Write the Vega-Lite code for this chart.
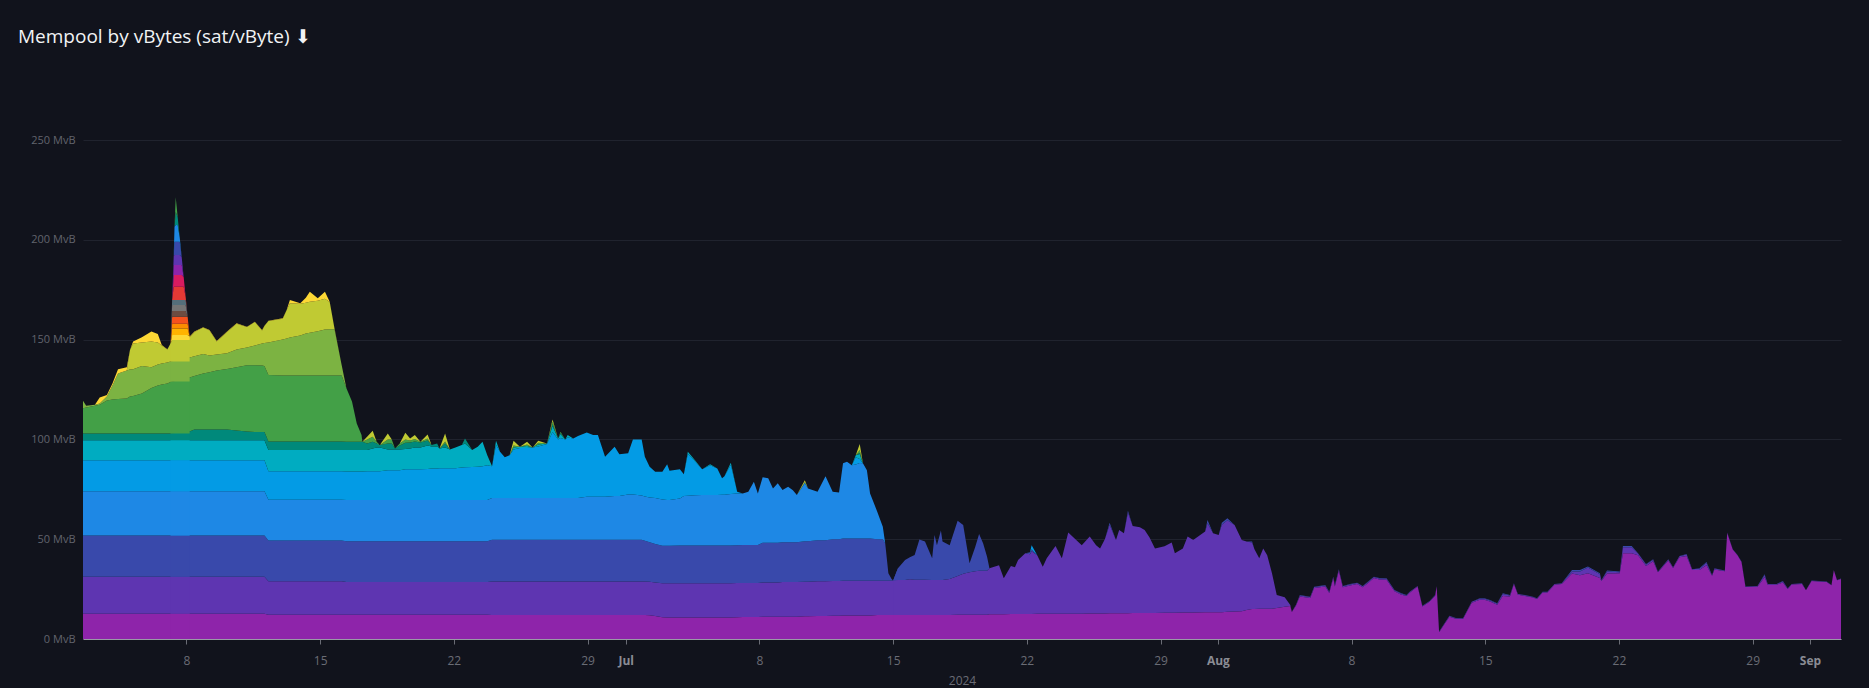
{
"$schema":"https://vega.github.io/schema/vega-lite/v6.json",
"autosize":"none","width":1758,"height":499,
"padding":{"left":83,"top":140,"right":28,"bottom":49},
"background":"#11131c",
"title":{"text":"Mempool by vBytes (sat/vByte)   ⬇","anchor":"start","frame":"group","dx":-65,"offset":87,"fontSize":19,"font":"Open Sans","fontWeight":"normal","color":"#f2f3f5"},
"config":{"view":{"stroke":null},"font":"Open Sans"},
"datasets":{
"full":[
{"t":"2024-06-02T14:00","a":12.7,"b":18.5,"c":20.6,"d":22.2,"e":15.6,"f":10,"g":3.4,"h":12.6,"i":3.8,"j":0,"k":0},
{"t":"2024-06-02T18:00","a":12.7,"b":18.5,"c":20.6,"d":22.2,"e":15.6,"f":10,"g":3.4,"h":13,"i":0.8,"j":0,"k":0},
{"t":"2024-06-03T05:00","a":12.7,"b":18.5,"c":20.6,"d":22.2,"e":15.6,"f":10,"g":3.4,"h":13.8,"i":0.5,"j":0,"k":0},
{"t":"2024-06-03T11:00","a":12.7,"b":18.5,"c":20.6,"d":22.2,"e":15.6,"f":10,"g":3.4,"h":14.3,"i":0.7,"j":0,"k":3},
{"t":"2024-06-03T20:00","a":12.7,"b":18.5,"c":20.6,"d":22.2,"e":15.6,"f":10,"g":3.4,"h":16.5,"i":2,"j":0,"k":0.8},
{"t":"2024-06-04T03:00","a":12.7,"b":18.5,"c":20.6,"d":22.2,"e":15.6,"f":10,"g":3.4,"h":17,"i":7,"j":0,"k":1},
{"t":"2024-06-04T10:00","a":12.7,"b":18.5,"c":20.6,"d":22.2,"e":15.6,"f":10,"g":3.4,"h":17.3,"i":12.7,"j":0,"k":2.1},
{"t":"2024-06-04T21:00","a":12.7,"b":18.5,"c":20.6,"d":22.2,"e":15.6,"f":10,"g":3.4,"h":17.5,"i":14,"j":0,"k":1.6},
{"t":"2024-06-05T01:00","a":12.7,"b":18.5,"c":20.6,"d":22.2,"e":15.6,"f":10,"g":3.4,"h":18.5,"i":13.5,"j":9.8,"k":0},
{"t":"2024-06-05T05:00","a":12.7,"b":18.5,"c":20.6,"d":22.2,"e":15.6,"f":10,"g":3.4,"h":18.8,"i":13.4,"j":12.8,"k":1},
{"t":"2024-06-05T16:00","a":12.7,"b":18.5,"c":20.6,"d":22.2,"e":15.6,"f":10,"g":3.4,"h":20,"i":13.8,"j":11.7,"k":2.7},
{"t":"2024-06-06T04:00","a":12.7,"b":18.5,"c":20.6,"d":22.2,"e":15.6,"f":10,"g":3.4,"h":22.8,"i":10.4,"j":12.8,"k":5},
{"t":"2024-06-06T12:00","a":12.7,"b":18.5,"c":20.6,"d":22.2,"e":15.6,"f":10,"g":3.4,"h":24,"i":10.5,"j":11,"k":4.3},
{"t":"2024-06-06T17:00","a":12.7,"b":18.5,"c":20.6,"d":22.2,"e":15.6,"f":10,"g":3.4,"h":24.5,"i":10.5,"j":9,"k":0.3},
{"t":"2024-06-07T00:00","a":12.7,"b":18.5,"c":20.6,"d":22.2,"e":15.6,"f":10,"g":3.4,"h":25,"i":10.5,"j":6.5,"k":0.2},
{"t":"2024-06-07T04:00","a":12.7,"b":18.5,"c":20.6,"d":22.2,"e":15.6,"f":10,"g":3.4,"h":25.7,"i":10.3,"j":9,"k":0},
{"t":"2024-06-08T04:00","a":12.7,"b":18.5,"c":20.6,"d":22.2,"e":15.6,"f":10,"g":4.4,"h":27,"i":10,"j":10.2,"k":0.3},
{"t":"2024-06-08T10:00","a":12.7,"b":18.5,"c":20.6,"d":22.2,"e":15.6,"f":10,"g":5.4,"h":26.8,"i":9.9,"j":12.1,"k":0.2},
{"t":"2024-06-08T21:00","a":12.7,"b":18.5,"c":20.6,"d":22.2,"e":15.6,"f":10,"g":5.4,"h":28,"i":9.8,"j":13.2,"k":0.2},
{"t":"2024-06-09T05:00","a":12.7,"b":18.5,"c":20.6,"d":22.2,"e":15.6,"f":10,"g":5.4,"h":28.6,"i":8.4,"j":12.6,"k":0.2},
{"t":"2024-06-09T14:00","a":12.7,"b":18.5,"c":20.6,"d":22.2,"e":15.6,"f":10,"g":5.4,"h":29.5,"i":8,"j":6.6,"k":0.2},
{"t":"2024-06-10T03:00","a":12.7,"b":18.5,"c":20.6,"d":22.2,"e":15.6,"f":10,"g":5.4,"h":30.3,"i":7.9,"j":10.6,"k":0.2},
{"t":"2024-06-10T15:00","a":12.7,"b":18.5,"c":20.6,"d":22.2,"e":15.6,"f":10,"g":4.9,"h":31.6,"i":8.9,"j":13,"k":0.2},
{"t":"2024-06-11T04:00","a":12.7,"b":18.5,"c":20.6,"d":22.2,"e":15.6,"f":10,"g":4.4,"h":33.2,"i":8.8,"j":10.3,"k":0.2},
{"t":"2024-06-11T14:00","a":12.7,"b":18.5,"c":20.6,"d":22.2,"e":15.6,"f":10,"g":4.1,"h":33.5,"i":9.8,"j":11.8,"k":0.2},
{"t":"2024-06-11T23:00","a":12.7,"b":18.5,"c":20.6,"d":22.2,"e":15.6,"f":10,"g":4.1,"h":33.3,"i":11,"j":6.6,"k":0.2},
{"t":"2024-06-12T02:00","a":12.7,"b":18.5,"c":20.6,"d":22.2,"e":15.6,"f":10,"g":4.1,"h":33.1,"i":11.5,"j":8.5,"k":0.2},
{"t":"2024-06-12T07:00","a":12.2,"b":16.7,"c":20.4,"d":20.5,"e":14.2,"f":10.7,"g":4.3,"h":33.3,"i":16.2,"j":10.8,"k":0.2},
{"t":"2024-06-13T01:00","a":12.2,"b":16.7,"c":20.4,"d":20.5,"e":14.2,"f":10.7,"g":4.3,"h":33,"i":18,"j":10.5,"k":0.2},
{"t":"2024-06-13T06:00","a":12.2,"b":16.7,"c":20.4,"d":20.5,"e":14.2,"f":10.7,"g":4.3,"h":33,"i":18.5,"j":14.3,"k":0.2},
{"t":"2024-06-13T10:00","a":12.2,"b":16.7,"c":20.4,"d":20.5,"e":14.2,"f":10.7,"g":4.3,"h":33,"i":19,"j":17.2,"k":1.7},
{"t":"2024-06-13T23:00","a":12.2,"b":16.7,"c":20.4,"d":20.5,"e":14.2,"f":10.7,"g":4.3,"h":33,"i":20,"j":16,"k":0.2},
{"t":"2024-06-14T06:00","a":12.2,"b":16.7,"c":20.4,"d":20.5,"e":14.2,"f":10.7,"g":4.3,"h":33,"i":21,"j":15.5,"k":2.5},
{"t":"2024-06-14T11:00","a":12.2,"b":16.7,"c":20.4,"d":20.5,"e":14.2,"f":10.7,"g":4.3,"h":33,"i":21.4,"j":15.6,"k":5},
{"t":"2024-06-14T21:00","a":12.2,"b":16.7,"c":20.4,"d":20.5,"e":14.2,"f":10.7,"g":4.3,"h":33,"i":22.2,"j":15.3,"k":1.2},
{"t":"2024-06-15T06:00","a":12.2,"b":16.7,"c":20.4,"d":20.5,"e":14.2,"f":10.7,"g":4.3,"h":33,"i":23,"j":15.5,"k":3.5},
{"t":"2024-06-15T12:00","a":12.2,"b":16.7,"c":20.4,"d":20.5,"e":14.2,"f":10.7,"g":4.3,"h":33,"i":23.2,"j":13.6,"k":0.2},
{"t":"2024-06-15T18:00","a":12.2,"b":16.7,"c":20.4,"d":20.5,"e":14.2,"f":10.7,"g":4.3,"h":33,"i":23.2,"j":0.3,"k":0.2},
{"t":"2024-06-16T03:00","a":12.2,"b":16.7,"c":20.4,"d":20.5,"e":14.2,"f":10.7,"g":4.3,"h":33,"i":5.3,"j":0,"k":0},
{"t":"2024-06-16T09:00","a":12.1,"b":16.5,"c":20.4,"d":20.6,"e":14.3,"f":10.8,"g":4.1,"h":26.8,"i":0,"j":0,"k":0},
{"t":"2024-06-16T16:00","a":12.1,"b":16.5,"c":20.4,"d":20.6,"e":14.3,"f":10.8,"g":4.1,"h":20.2,"i":0,"j":0,"k":0},
{"t":"2024-06-16T22:00","a":12.1,"b":16.5,"c":20.4,"d":20.6,"e":14.3,"f":10.8,"g":4.1,"h":9.2,"i":0,"j":0,"k":0},
{"t":"2024-06-17T04:00","a":12.1,"b":16.5,"c":20.4,"d":20.6,"e":14.3,"f":10.8,"g":4.1,"h":3.4,"i":0,"j":0,"k":0},
{"t":"2024-06-17T05:00","a":12.1,"b":16.5,"c":20.4,"d":20.6,"e":14.3,"f":10.8,"g":4.1,"h":0,"i":0,"j":0,"k":0},
{"t":"2024-06-17T11:00","a":12.1,"b":16.5,"c":20.4,"d":20.6,"e":14.4,"f":10.7,"g":3.3,"h":2,"i":0,"j":1.3,"k":0},
{"t":"2024-06-17T18:00","a":12.1,"b":16.5,"c":20.4,"d":20.6,"e":14.4,"f":11.5,"g":3.3,"h":2.5,"i":0,"j":3,"k":0},
{"t":"2024-06-17T23:00","a":12.1,"b":16.5,"c":20.4,"d":20.6,"e":14.4,"f":12,"g":2,"h":0.8,"i":0,"j":0,"k":0},
{"t":"2024-06-18T03:00","a":12.1,"b":16.5,"c":20.4,"d":20.6,"e":14.4,"f":12,"g":1.2,"h":0,"i":0,"j":0,"k":0},
{"t":"2024-06-18T13:00","a":12.1,"b":16.5,"c":20.4,"d":20.6,"e":14.9,"f":10.5,"g":3,"h":2,"i":0,"j":3,"k":0},
{"t":"2024-06-18T18:00","a":12.1,"b":16.5,"c":20.4,"d":20.6,"e":14.9,"f":10.5,"g":3,"h":2,"i":0,"j":0,"k":0},
{"t":"2024-06-18T22:00","a":12.1,"b":16.5,"c":20.4,"d":20.6,"e":14.9,"f":10.5,"g":0.5,"h":0,"i":0,"j":0,"k":0},
{"t":"2024-06-19T04:00","a":12.1,"b":16.5,"c":20.4,"d":20.6,"e":15,"f":10.4,"g":2,"h":1,"i":0,"j":0,"k":0},
{"t":"2024-06-19T11:00","a":12.1,"b":16.5,"c":20.4,"d":20.6,"e":15.4,"f":10.2,"g":3.1,"h":1.7,"i":0,"j":3.3,"k":0},
{"t":"2024-06-19T17:00","a":12.1,"b":16.5,"c":20.4,"d":20.6,"e":15.4,"f":10.5,"g":3,"h":1,"i":0,"j":1,"k":0},
{"t":"2024-06-19T23:00","a":12.1,"b":16.5,"c":20.4,"d":20.6,"e":15.4,"f":11,"g":3,"h":1.2,"i":0,"j":2,"k":0},
{"t":"2024-06-20T06:00","a":12.1,"b":16.5,"c":20.4,"d":20.6,"e":15.4,"f":11,"g":2.5,"h":0.3,"i":0,"j":0,"k":0},
{"t":"2024-06-20T15:00","a":12.1,"b":16.5,"c":20.4,"d":20.6,"e":15.6,"f":11.8,"g":2.5,"h":1,"i":0,"j":2,"k":0},
{"t":"2024-06-20T20:00","a":12.1,"b":16.5,"c":20.4,"d":20.6,"e":15.8,"f":11.1,"g":0.7,"h":0,"i":0,"j":0,"k":0},
{"t":"2024-06-21T03:00","a":12.1,"b":16.5,"c":20.4,"d":20.6,"e":15.8,"f":11.1,"g":1.5,"h":0,"i":0,"j":0,"k":0},
{"t":"2024-06-21T06:00","a":12.1,"b":16.5,"c":20.4,"d":20.6,"e":15.9,"f":10,"g":0,"h":0,"i":0,"j":0,"k":0},
{"t":"2024-06-21T13:00","a":12.1,"b":16.5,"c":20.4,"d":20.6,"e":16,"f":10.4,"g":2,"h":1,"i":0,"j":4,"k":0},
{"t":"2024-06-21T19:00","a":12.1,"b":16.5,"c":20.4,"d":20.6,"e":16,"f":9.4,"g":0,"h":0,"i":0,"j":0,"k":0},
{"t":"2024-06-22T02:00","a":12.1,"b":16.5,"c":20.4,"d":20.6,"e":16,"f":10.4,"g":0,"h":0,"i":0,"j":0,"k":0},
{"t":"2024-06-22T10:00","a":12.1,"b":16.5,"c":20.4,"d":20.6,"e":16.3,"f":11.3,"g":0,"h":0,"i":0,"j":0,"k":0},
{"t":"2024-06-22T14:00","a":12.1,"b":16.5,"c":20.4,"d":20.6,"e":16.4,"f":12,"g":2.5,"h":0,"i":0,"j":0,"k":0},
{"t":"2024-06-22T23:00","a":12.1,"b":16.5,"c":20.4,"d":20.6,"e":16.6,"f":8.5,"g":0,"h":0,"i":0,"j":0,"k":0},
{"t":"2024-06-23T06:00","a":12.1,"b":16.5,"c":20.4,"d":20.6,"e":16.7,"f":10,"g":0,"h":0,"i":0,"j":0,"k":0},
{"t":"2024-06-23T12:00","a":12.1,"b":16.5,"c":20.4,"d":20.6,"e":17,"f":12.2,"g":0,"h":0,"i":0,"j":0,"k":0},
{"t":"2024-06-23T18:00","a":12.1,"b":16.5,"c":20.4,"d":20.6,"e":17.5,"f":4.9,"g":0,"h":0,"i":0,"j":0,"k":0},
{"t":"2024-06-24T00:00","a":12,"b":16.8,"c":20.9,"d":21,"e":15.9,"f":0,"g":0,"h":0,"i":0,"j":0,"k":0},
{"t":"2024-06-24T05:00","a":12,"b":16.8,"c":20.9,"d":21,"e":26.5,"f":2.1,"g":0,"h":0,"i":0,"j":0,"k":0},
{"t":"2024-06-24T10:00","a":12,"b":16.8,"c":20.9,"d":21,"e":23.1,"f":0,"g":0,"h":0,"i":0,"j":0,"k":0},
{"t":"2024-06-24T16:00","a":12,"b":16.8,"c":20.9,"d":21,"e":20.3,"f":0,"g":0,"h":0,"i":0,"j":0,"k":0},
{"t":"2024-06-24T22:00","a":12,"b":16.8,"c":20.9,"d":21,"e":21.4,"f":0,"g":0,"h":0,"i":0,"j":0,"k":0},
{"t":"2024-06-25T03:00","a":12,"b":16.8,"c":20.9,"d":21,"e":24.3,"f":1,"g":0,"h":1,"i":0,"j":2.3,"k":0},
{"t":"2024-06-25T11:00","a":12,"b":16.8,"c":20.9,"d":21,"e":25,"f":0.6,"g":0,"h":0,"i":0,"j":0,"k":0},
{"t":"2024-06-25T20:00","a":12,"b":16.8,"c":20.9,"d":21,"e":25,"f":1,"g":0,"h":0.8,"i":0,"j":1.3,"k":0},
{"t":"2024-06-26T03:00","a":12,"b":16.8,"c":20.9,"d":21,"e":25.3,"f":0,"g":0,"h":0,"i":0,"j":0,"k":0},
{"t":"2024-06-26T10:00","a":12,"b":16.8,"c":20.9,"d":21,"e":25.8,"f":1,"g":0,"h":0.8,"i":0,"j":1,"k":0},
{"t":"2024-06-26T21:00","a":12,"b":16.8,"c":20.9,"d":21,"e":27,"f":0.3,"g":0,"h":0,"i":0,"j":0,"k":0},
{"t":"2024-06-27T04:00","a":12,"b":16.8,"c":20.9,"d":21,"e":33,"f":3,"g":1,"h":1.3,"i":0,"j":1,"k":0},
{"t":"2024-06-27T11:00","a":12,"b":16.8,"c":20.9,"d":21,"e":29.3,"f":0.5,"g":0,"h":0,"i":0,"j":0,"k":0},
{"t":"2024-06-27T14:00","a":12,"b":16.8,"c":20.9,"d":21,"e":30,"f":2,"g":0.5,"h":0.6,"i":0,"j":0,"k":0},
{"t":"2024-06-27T20:00","a":12,"b":16.8,"c":20.9,"d":21,"e":29.3,"f":0,"g":0,"h":0,"i":0,"j":0,"k":0},
{"t":"2024-06-27T23:00","a":12,"b":16.8,"c":20.9,"d":21,"e":30.2,"f":1.3,"g":0,"h":0,"i":0,"j":0,"k":0},
{"t":"2024-06-28T06:00","a":12,"b":16.8,"c":20.9,"d":21,"e":29.8,"f":0,"g":0,"h":0,"i":0,"j":0,"k":0},
{"t":"2024-06-28T12:00","a":12,"b":16.8,"c":20.9,"d":21,"e":31,"f":0,"g":0,"h":0,"i":0,"j":0,"k":0},
{"t":"2024-06-28T23:00","a":12,"b":16.8,"c":20.9,"d":21.6,"e":32.2,"f":0,"g":0,"h":0,"i":0,"j":0,"k":0},
{"t":"2024-06-29T07:00","a":12,"b":16.8,"c":20.9,"d":21.6,"e":30.9,"f":0,"g":0,"h":0,"i":0,"j":0,"k":0},
{"t":"2024-06-29T13:00","a":12,"b":16.8,"c":20.9,"d":21.6,"e":30.9,"f":0,"g":0,"h":0,"i":0,"j":0,"k":0},
{"t":"2024-06-29T22:00","a":12,"b":16.8,"c":20.9,"d":21.6,"e":20,"f":0,"g":0,"h":0,"i":0,"j":0,"k":0},
{"t":"2024-06-30T10:00","a":12,"b":16.8,"c":20.9,"d":22,"e":24.6,"f":0,"g":0,"h":0,"i":0,"j":0,"k":0},
{"t":"2024-06-30T16:00","a":12,"b":16.8,"c":20.9,"d":22,"e":20.8,"f":0,"g":0,"h":0,"i":0,"j":0,"k":0},
{"t":"2024-07-01T03:00","a":12,"b":16.8,"c":20.9,"d":22.7,"e":20.6,"f":0,"g":0,"h":0,"i":0,"j":0,"k":0},
{"t":"2024-07-01T09:00","a":12,"b":16.8,"c":20.9,"d":22.7,"e":27.6,"f":0,"g":0,"h":0,"i":0,"j":0,"k":0},
{"t":"2024-07-01T20:00","a":12,"b":16.8,"c":20.9,"d":22.2,"e":28.1,"f":0,"g":0,"h":0,"i":0,"j":0,"k":0},
{"t":"2024-07-02T00:00","a":12,"b":16.8,"c":20.4,"d":22.2,"e":19.9,"f":0,"g":0,"h":0,"i":0,"j":0,"k":0},
{"t":"2024-07-02T06:00","a":11.9,"b":16.8,"c":19.8,"d":22.4,"e":15.4,"f":0,"g":0,"h":0,"i":0,"j":0,"k":0},
{"t":"2024-07-02T13:00","a":11.5,"b":16.8,"c":19.3,"d":23,"e":13.2,"f":0,"g":0,"h":0,"i":0,"j":0,"k":0},
{"t":"2024-07-02T22:00","a":10.9,"b":17,"c":18.8,"d":23.2,"e":13.9,"f":0,"g":0,"h":0,"i":0,"j":0,"k":0},
{"t":"2024-07-03T04:00","a":10.8,"b":17.1,"c":18.8,"d":22.9,"e":18,"f":0,"g":0,"h":0,"i":0,"j":0,"k":0},
{"t":"2024-07-03T07:00","a":10.8,"b":17.1,"c":18.8,"d":22.9,"e":14.7,"f":0,"g":0,"h":0,"i":0,"j":0,"k":0},
{"t":"2024-07-03T20:00","a":10.8,"b":17.1,"c":18.9,"d":23.6,"e":14.6,"f":0,"g":0,"h":0,"i":0,"j":0,"k":0},
{"t":"2024-07-04T01:00","a":10.8,"b":17.1,"c":18.9,"d":24.8,"e":11,"f":0,"g":0,"h":0,"i":0,"j":0,"k":0},
{"t":"2024-07-04T06:00","a":10.8,"b":17.1,"c":18.9,"d":25,"e":21,"f":1,"g":0,"h":0,"i":0,"j":0,"k":0},
{"t":"2024-07-04T15:00","a":10.8,"b":17.1,"c":18.9,"d":25.2,"e":17.1,"f":0.5,"g":0,"h":0,"i":0,"j":0,"k":0},
{"t":"2024-07-05T00:00","a":10.8,"b":17.1,"c":18.9,"d":25.3,"e":12.9,"f":0,"g":0,"h":0,"i":0,"j":0,"k":0},
{"t":"2024-07-05T10:00","a":10.8,"b":17.1,"c":18.9,"d":25.3,"e":15,"f":0.5,"g":0,"h":0,"i":0,"j":0,"k":0},
{"t":"2024-07-05T19:00","a":10.8,"b":17.1,"c":18.9,"d":25.3,"e":13.3,"f":0,"g":0,"h":0,"i":0,"j":0,"k":0},
{"t":"2024-07-06T01:00","a":10.8,"b":17.1,"c":18.9,"d":25.5,"e":8.2,"f":0,"g":0,"h":0,"i":0,"j":0,"k":0},
{"t":"2024-07-06T04:00","a":10.8,"b":17.1,"c":18.9,"d":25.5,"e":9.3,"f":0,"g":0,"h":0,"i":0,"j":0,"k":0},
{"t":"2024-07-06T12:00","a":10.8,"b":17.1,"c":18.9,"d":25.8,"e":14.7,"f":1,"g":0,"h":0,"i":0,"j":0,"k":0},
{"t":"2024-07-06T20:00","a":10.9,"b":17.1,"c":19,"d":25.9,"e":0.9,"f":0,"g":0,"h":0,"i":0,"j":0,"k":0},
{"t":"2024-07-07T03:00","a":11,"b":17.1,"c":19,"d":25.8,"e":0,"f":0,"g":0,"h":0,"i":0,"j":0,"k":0},
{"t":"2024-07-07T10:00","a":11,"b":17.1,"c":19,"d":26.7,"e":0,"f":0,"g":0,"h":0,"i":0,"j":0,"k":0},
{"t":"2024-07-07T17:00","a":11,"b":17.1,"c":19,"d":31.7,"e":0,"f":0,"g":0,"h":0,"i":0,"j":0,"k":0},
{"t":"2024-07-07T22:00","a":11,"b":17.1,"c":19,"d":25.8,"e":0,"f":0,"g":0,"h":0,"i":0,"j":0,"k":0},
{"t":"2024-07-08T04:00","a":11.1,"b":17.2,"c":19.9,"d":32.8,"e":0,"f":0,"g":0,"h":0,"i":0,"j":0,"k":0},
{"t":"2024-07-08T11:00","a":11.1,"b":17.2,"c":19.9,"d":32.3,"e":0,"f":0,"g":0,"h":0,"i":0,"j":0,"k":0},
{"t":"2024-07-08T17:00","a":11.1,"b":17.2,"c":19.9,"d":27.2,"e":0,"f":0,"g":0,"h":0,"i":0,"j":0,"k":0},
{"t":"2024-07-08T23:00","a":11.1,"b":17.2,"c":19.9,"d":29.8,"e":0,"f":0,"g":0,"h":0,"i":0,"j":0,"k":0},
{"t":"2024-07-09T05:00","a":11.2,"b":17.3,"c":20,"d":26.1,"e":0,"f":0,"g":0,"h":0,"i":0,"j":0,"k":0},
{"t":"2024-07-09T12:00","a":11.2,"b":17.3,"c":20,"d":27.8,"e":0,"f":0,"g":0,"h":0,"i":0,"j":0,"k":0},
{"t":"2024-07-09T18:00","a":11.2,"b":17.3,"c":20,"d":26,"e":0,"f":0,"g":0,"h":0,"i":0,"j":0,"k":0},
{"t":"2024-07-09T23:00","a":11.2,"b":17.3,"c":20,"d":23.6,"e":0,"f":0,"g":0,"h":0,"i":0,"j":0,"k":0},
{"t":"2024-07-10T09:00","a":11.4,"b":17.3,"c":20.3,"d":29,"e":0.5,"f":0,"g":0,"h":0,"i":0,"j":1,"k":0},
{"t":"2024-07-10T13:00","a":11.4,"b":17.3,"c":20.3,"d":26.4,"e":0,"f":0,"g":0,"h":0,"i":0,"j":0,"k":0},
{"t":"2024-07-11T01:00","a":11.5,"b":17.4,"c":20.6,"d":24.3,"e":0,"f":0,"g":0,"h":0,"i":0,"j":0,"k":0},
{"t":"2024-07-11T11:00","a":11.5,"b":17.4,"c":20.6,"d":32.1,"e":0,"f":0,"g":0,"h":0,"i":0,"j":0,"k":0},
{"t":"2024-07-11T20:00","a":11.6,"b":17.5,"c":20.9,"d":23.8,"e":0,"f":0,"g":0,"h":0,"i":0,"j":0,"k":0},
{"t":"2024-07-12T04:00","a":11.6,"b":17.5,"c":20.9,"d":23.4,"e":0,"f":0,"g":0,"h":0,"i":0,"j":0,"k":0},
{"t":"2024-07-12T09:00","a":11.8,"b":17.4,"c":21.2,"d":37.6,"e":0,"f":0,"g":0,"h":0,"i":0,"j":0,"k":0},
{"t":"2024-07-12T14:00","a":11.8,"b":17.4,"c":21.2,"d":38.4,"e":0,"f":0,"g":0,"h":0,"i":0,"j":0,"k":0},
{"t":"2024-07-12T20:00","a":11.8,"b":17.4,"c":21.2,"d":36.7,"e":0,"f":0,"g":0,"h":0,"i":0,"j":0,"k":0},
{"t":"2024-07-13T01:00","a":11.8,"b":17.4,"c":21.2,"d":37,"e":3.6,"f":1,"g":0,"h":0,"i":0,"j":0,"k":0},
{"t":"2024-07-13T06:00","a":11.8,"b":17.4,"c":21.2,"d":37.8,"e":2,"f":2.5,"g":0.5,"h":1.5,"i":0,"j":3,"k":0},
{"t":"2024-07-13T10:00","a":11.8,"b":17.4,"c":21.2,"d":37.6,"e":0,"f":0,"g":0,"h":0,"i":0,"j":0,"k":0},
{"t":"2024-07-13T15:00","a":11.8,"b":17.4,"c":21.2,"d":34.2,"e":0,"f":0,"g":0,"h":0,"i":0,"j":0,"k":0},
{"t":"2024-07-13T19:00","a":11.8,"b":17.4,"c":21.2,"d":22.5,"e":0,"f":0,"g":0,"h":0,"i":0,"j":0,"k":0},
{"t":"2024-07-14T04:00","a":12,"b":17.2,"c":20.8,"d":13.8,"e":0,"f":0,"g":0,"h":0,"i":0,"j":0,"k":0},
{"t":"2024-07-14T11:00","a":12,"b":17.2,"c":20.8,"d":6.2,"e":0,"f":0,"g":0,"h":0,"i":0,"j":0,"k":0},
{"t":"2024-07-14T14:00","a":12,"b":17.2,"c":18.8,"d":0,"e":0,"f":0,"g":0,"h":0,"i":0,"j":0,"k":0},
{"t":"2024-07-14T18:00","a":12,"b":17.2,"c":3.7,"d":0,"e":0,"f":0,"g":0,"h":0,"i":0,"j":0,"k":0},
{"t":"2024-07-14T22:00","a":12,"b":17.2,"c":0.8,"d":0,"e":0,"f":0,"g":0,"h":0,"i":0,"j":0,"k":0},
{"t":"2024-07-15T00:00","a":12,"b":17.3,"c":0,"d":0,"e":0,"f":0,"g":0,"h":0,"i":0,"j":0,"k":0},
{"t":"2024-07-15T06:00","a":12,"b":17.6,"c":5.8,"d":0,"e":0,"f":0,"g":0,"h":0,"i":0,"j":0,"k":0}
],
"late":[
{"t":"2024-07-15T00:00","a":12,"b":17.3,"c":0,"e":0},
{"t":"2024-07-15T06:00","a":12,"b":17.6,"c":5.8,"e":0},
{"t":"2024-07-15T15:00","a":12,"b":17.6,"c":10,"e":0},
{"t":"2024-07-15T21:00","a":12,"b":17.9,"c":11.1,"e":0},
{"t":"2024-07-16T03:00","a":12,"b":17.7,"c":12.4,"e":0},
{"t":"2024-07-16T09:00","a":12,"b":17.7,"c":20.2,"e":0},
{"t":"2024-07-16T16:00","a":12,"b":17.7,"c":19.1,"e":0},
{"t":"2024-07-17T01:00","a":12,"b":17.6,"c":10.8,"e":0},
{"t":"2024-07-17T04:00","a":12,"b":17.6,"c":22.5,"e":0},
{"t":"2024-07-17T07:00","a":12,"b":17.6,"c":17.4,"e":0},
{"t":"2024-07-17T12:00","a":12,"b":17.6,"c":24.7,"e":0},
{"t":"2024-07-17T14:00","a":12,"b":17.6,"c":19.2,"e":0},
{"t":"2024-07-17T23:00","a":12,"b":18,"c":17,"e":0},
{"t":"2024-07-18T09:00","a":12.1,"b":19.5,"c":27.7,"e":0},
{"t":"2024-07-18T16:00","a":12.1,"b":20.6,"c":24.4,"e":0},
{"t":"2024-07-19T00:00","a":12.2,"b":21.2,"c":4.5,"e":0},
{"t":"2024-07-19T07:00","a":12.2,"b":21.8,"c":12,"e":0},
{"t":"2024-07-19T12:00","a":12.2,"b":22,"c":18.4,"e":0},
{"t":"2024-07-19T17:00","a":12.2,"b":22,"c":13.8,"e":0},
{"t":"2024-07-19T22:00","a":12.2,"b":22,"c":7,"e":0},
{"t":"2024-07-20T01:00","a":12.4,"b":23,"c":0,"e":0},
{"t":"2024-07-20T13:00","a":12.4,"b":24.6,"c":0,"e":0},
{"t":"2024-07-20T19:00","a":12.4,"b":18,"c":0,"e":0},
{"t":"2024-07-21T04:00","a":12.5,"b":24.1,"c":0,"e":0},
{"t":"2024-07-21T09:00","a":12.5,"b":23.4,"c":0,"e":0},
{"t":"2024-07-21T13:00","a":12.5,"b":27.1,"c":0,"e":0},
{"t":"2024-07-21T22:00","a":12.5,"b":30.4,"c":0,"e":0},
{"t":"2024-07-22T04:00","a":12.5,"b":30,"c":1,"e":0},
{"t":"2024-07-22T06:00","a":12.5,"b":31.5,"c":1,"e":2},
{"t":"2024-07-22T13:00","a":12.6,"b":29.4,"c":0,"e":0},
{"t":"2024-07-22T20:00","a":12.6,"b":23.6,"c":0,"e":0},
{"t":"2024-07-23T01:00","a":12.6,"b":27.8,"c":0,"e":0},
{"t":"2024-07-23T12:00","a":12.6,"b":34,"c":0,"e":0},
{"t":"2024-07-23T20:00","a":12.7,"b":27.7,"c":0,"e":0},
{"t":"2024-07-24T04:00","a":12.7,"b":40.6,"c":0,"e":0},
{"t":"2024-07-24T12:00","a":12.7,"b":37.7,"c":0,"e":0},
{"t":"2024-07-24T21:00","a":12.7,"b":34.3,"c":0,"e":0},
{"t":"2024-07-25T07:00","a":12.8,"b":38.5,"c":0,"e":0},
{"t":"2024-07-25T15:00","a":12.8,"b":34.2,"c":0,"e":0},
{"t":"2024-07-25T20:00","a":12.8,"b":32.6,"c":0,"e":0},
{"t":"2024-07-26T02:00","a":12.8,"b":37.2,"c":0,"e":0},
{"t":"2024-07-26T08:00","a":12.9,"b":44.4,"c":1,"e":0},
{"t":"2024-07-26T16:00","a":12.9,"b":36.7,"c":0,"e":0},
{"t":"2024-07-26T20:00","a":12.9,"b":41.7,"c":0,"e":0},
{"t":"2024-07-27T02:00","a":12.9,"b":40.1,"c":0,"e":0},
{"t":"2024-07-27T07:00","a":12.9,"b":50.5,"c":0.9,"e":0},
{"t":"2024-07-27T13:00","a":13,"b":43.6,"c":0,"e":0},
{"t":"2024-07-27T22:00","a":13,"b":43,"c":0,"e":0},
{"t":"2024-07-28T04:00","a":13,"b":41.6,"c":0,"e":0},
{"t":"2024-07-28T10:00","a":13,"b":38,"c":0,"e":0},
{"t":"2024-07-28T17:00","a":13,"b":32.4,"c":0,"e":0},
{"t":"2024-07-29T05:00","a":13.1,"b":33.4,"c":0,"e":0},
{"t":"2024-07-29T14:00","a":13.1,"b":35.2,"c":0,"e":0},
{"t":"2024-07-29T18:00","a":13.1,"b":29.8,"c":0,"e":0},
{"t":"2024-07-30T04:00","a":13.3,"b":32.1,"c":0,"e":0},
{"t":"2024-07-30T10:00","a":13.3,"b":38,"c":0,"e":0},
{"t":"2024-07-30T17:00","a":13.3,"b":36.3,"c":0,"e":0},
{"t":"2024-07-31T08:00","a":13.4,"b":40.4,"c":0,"e":0},
{"t":"2024-07-31T11:00","a":13.4,"b":44.6,"c":1.6,"e":0},
{"t":"2024-07-31T18:00","a":13.4,"b":39.6,"c":0,"e":0},
{"t":"2024-08-01T01:00","a":13.4,"b":38.7,"c":0,"e":0},
{"t":"2024-08-01T05:00","a":13.4,"b":43.9,"c":1,"e":0},
{"t":"2024-08-01T12:00","a":13.6,"b":45.9,"c":1,"e":0},
{"t":"2024-08-01T21:00","a":13.8,"b":43.3,"c":0,"e":0},
{"t":"2024-08-02T06:00","a":13.9,"b":35.7,"c":0,"e":0},
{"t":"2024-08-02T12:00","a":14.5,"b":34.3,"c":0,"e":0},
{"t":"2024-08-02T19:00","a":15,"b":33.3,"c":0.5,"e":0},
{"t":"2024-08-02T22:00","a":15,"b":30,"c":0,"e":0},
{"t":"2024-08-03T04:00","a":15.1,"b":25.3,"c":0,"e":0},
{"t":"2024-08-03T09:00","a":15.2,"b":30.2,"c":0,"e":0},
{"t":"2024-08-03T14:00","a":15.2,"b":26.8,"c":0,"e":0},
{"t":"2024-08-03T20:00","a":15.2,"b":17.7,"c":0,"e":0},
{"t":"2024-08-04T02:00","a":15.5,"b":6.5,"c":0,"e":0},
{"t":"2024-08-04T12:00","a":16.2,"b":4.7,"c":0,"e":0},
{"t":"2024-08-04T19:00","a":16.5,"b":0.5,"c":0,"e":0},
{"t":"2024-08-04T21:00","a":13.5,"b":0.2,"c":0,"e":0},
{"t":"2024-08-05T02:00","a":16.6,"b":0.4,"c":0,"e":0},
{"t":"2024-08-05T07:00","a":21.3,"b":0.5,"c":0.2,"e":0},
{"t":"2024-08-05T20:00","a":20.5,"b":0.5,"c":0.2,"e":0},
{"t":"2024-08-06T01:00","a":25.5,"b":0.5,"c":0.2,"e":0},
{"t":"2024-08-06T15:00","a":26.3,"b":0.5,"c":0.2,"e":0},
{"t":"2024-08-06T20:00","a":23,"b":0.5,"c":0.2,"e":0},
{"t":"2024-08-07T01:00","a":30.5,"b":0.5,"c":0.2,"e":0},
{"t":"2024-08-07T03:00","a":26.3,"b":0.5,"c":0.2,"e":0},
{"t":"2024-08-07T08:00","a":34.2,"b":0.5,"c":0.2,"e":0},
{"t":"2024-08-07T13:00","a":25.9,"b":0.5,"c":0.2,"e":0},
{"t":"2024-08-07T22:00","a":26.8,"b":0.5,"c":0.2,"e":0},
{"t":"2024-08-08T07:00","a":27.5,"b":0.5,"c":0.2,"e":0},
{"t":"2024-08-08T14:00","a":25.9,"b":0.5,"c":0.2,"e":0},
{"t":"2024-08-08T20:00","a":27.8,"b":0.5,"c":0.2,"e":0},
{"t":"2024-08-09T04:00","a":30.5,"b":0.5,"c":0.2,"e":0},
{"t":"2024-08-09T11:00","a":29.8,"b":0.5,"c":0.2,"e":0},
{"t":"2024-08-09T20:00","a":29.7,"b":0.5,"c":0.2,"e":0},
{"t":"2024-08-10T06:00","a":23.9,"b":0.5,"c":0.2,"e":0},
{"t":"2024-08-10T14:00","a":22.3,"b":0.5,"c":0.2,"e":0},
{"t":"2024-08-10T21:00","a":21.5,"b":0.3,"c":0.2,"e":0},
{"t":"2024-08-11T01:00","a":23.2,"b":0.3,"c":0.2,"e":0},
{"t":"2024-08-11T11:00","a":26.3,"b":0.2,"c":0.1,"e":0},
{"t":"2024-08-11T17:00","a":16.3,"b":0.2,"c":0.1,"e":0},
{"t":"2024-08-12T02:00","a":18.7,"b":0.2,"c":0.1,"e":0},
{"t":"2024-08-12T09:00","a":21.7,"b":0.2,"c":0.1,"e":0},
{"t":"2024-08-12T11:00","a":26.3,"b":0.2,"c":0.1,"e":0},
{"t":"2024-08-12T14:00","a":3.4,"b":0.2,"c":0.1,"e":0},
{"t":"2024-08-12T21:00","a":7.7,"b":0.2,"c":0.1,"e":0},
{"t":"2024-08-13T03:00","a":11.2,"b":0.3,"c":0.1,"e":0},
{"t":"2024-08-13T11:00","a":10.1,"b":0.3,"c":0.1,"e":0},
{"t":"2024-08-13T20:00","a":10,"b":0.3,"c":0.1,"e":0},
{"t":"2024-08-14T07:00","a":18.2,"b":0.4,"c":0.1,"e":0},
{"t":"2024-08-14T17:00","a":19.7,"b":0.5,"c":0.2,"e":0},
{"t":"2024-08-14T23:00","a":19.7,"b":0.5,"c":0.2,"e":0},
{"t":"2024-08-15T06:00","a":18.8,"b":0.5,"c":0.2,"e":0},
{"t":"2024-08-15T15:00","a":17.2,"b":0.5,"c":0.2,"e":0},
{"t":"2024-08-15T22:00","a":21.5,"b":1,"c":0.4,"e":0},
{"t":"2024-08-16T07:00","a":21.3,"b":0.5,"c":0.2,"e":0},
{"t":"2024-08-16T12:00","a":27.5,"b":0.3,"c":0.1,"e":0},
{"t":"2024-08-16T17:00","a":22.2,"b":0.3,"c":0.1,"e":0},
{"t":"2024-08-17T02:00","a":21.6,"b":0.3,"c":0.1,"e":0},
{"t":"2024-08-17T12:00","a":20.8,"b":0.3,"c":0.1,"e":0},
{"t":"2024-08-17T17:00","a":20,"b":0.3,"c":0.1,"e":0},
{"t":"2024-08-18T00:00","a":23.3,"b":0.3,"c":0.1,"e":0},
{"t":"2024-08-18T06:00","a":23.3,"b":0.3,"c":0.1,"e":0},
{"t":"2024-08-18T15:00","a":27.2,"b":0.3,"c":0.1,"e":0},
{"t":"2024-08-19T00:00","a":27.5,"b":0.3,"c":0.1,"e":0},
{"t":"2024-08-19T13:00","a":32.8,"b":1,"c":0.8,"e":0},
{"t":"2024-08-19T23:00","a":32,"b":1.8,"c":0.8,"e":0},
{"t":"2024-08-20T09:00","a":33,"b":2.8,"c":0.5,"e":0},
{"t":"2024-08-21T00:00","a":30.5,"b":2,"c":0.4,"e":0},
{"t":"2024-08-21T02:00","a":29,"b":0.4,"c":0.2,"e":0},
{"t":"2024-08-21T09:00","a":32.8,"b":1,"c":0.5,"e":0},
{"t":"2024-08-22T01:00","a":33,"b":0.5,"c":0.3,"e":0},
{"t":"2024-08-22T05:00","a":43,"b":3,"c":0.6,"e":0},
{"t":"2024-08-22T16:00","a":43,"b":3,"c":0.6,"e":0},
{"t":"2024-08-23T00:00","a":42,"b":0.8,"c":0.2,"e":0},
{"t":"2024-08-23T10:00","a":36.6,"b":0.7,"c":0.3,"e":0},
{"t":"2024-08-23T19:00","a":39,"b":0.7,"c":0.3,"e":0},
{"t":"2024-08-24T01:00","a":33.4,"b":0.3,"c":0.1,"e":0},
{"t":"2024-08-24T14:00","a":39.3,"b":0.5,"c":0.2,"e":0},
{"t":"2024-08-24T20:00","a":35.6,"b":0.3,"c":0.1,"e":0},
{"t":"2024-08-25T04:00","a":41,"b":0.4,"c":0.2,"e":0},
{"t":"2024-08-25T13:00","a":41.6,"b":0.7,"c":0.3,"e":0},
{"t":"2024-08-25T20:00","a":34.6,"b":0.3,"c":0.1,"e":0},
{"t":"2024-08-26T05:00","a":34.6,"b":0.6,"c":0.2,"e":0},
{"t":"2024-08-26T14:00","a":37,"b":1.1,"c":0.5,"e":0},
{"t":"2024-08-26T21:00","a":31.7,"b":0.3,"c":0.1,"e":0},
{"t":"2024-08-27T00:00","a":34.8,"b":0.5,"c":0.1,"e":0},
{"t":"2024-08-27T13:00","a":33.9,"b":0.3,"c":0.1,"e":0},
{"t":"2024-08-27T16:00","a":53.1,"b":0.1,"c":0.1,"e":0},
{"t":"2024-08-27T23:00","a":44.8,"b":0.1,"c":0.1,"e":0},
{"t":"2024-08-28T05:00","a":41.9,"b":0.1,"c":0.1,"e":0},
{"t":"2024-08-28T10:00","a":38.6,"b":0.1,"c":0.1,"e":0},
{"t":"2024-08-28T15:00","a":26,"b":0.2,"c":0.1,"e":0},
{"t":"2024-08-29T06:00","a":26.2,"b":0.3,"c":0.1,"e":0},
{"t":"2024-08-29T15:00","a":30.9,"b":1,"c":0.5,"e":0},
{"t":"2024-08-29T19:00","a":27.2,"b":0.3,"c":0.1,"e":0},
{"t":"2024-08-30T06:00","a":27.2,"b":0.3,"c":0.1,"e":0},
{"t":"2024-08-30T14:00","a":28.3,"b":0.5,"c":0.3,"e":0},
{"t":"2024-08-30T20:00","a":25,"b":0.3,"c":0.1,"e":0},
{"t":"2024-08-31T01:00","a":27.3,"b":0.2,"c":0.1,"e":0},
{"t":"2024-08-31T14:00","a":27.6,"b":0.2,"c":0.1,"e":0},
{"t":"2024-08-31T19:00","a":24.4,"b":0.1,"c":0.1,"e":0},
{"t":"2024-09-01T02:00","a":29.1,"b":0.1,"c":0.1,"e":0},
{"t":"2024-09-01T21:00","a":28.6,"b":0.1,"c":0.1,"e":0},
{"t":"2024-09-02T03:00","a":26.9,"b":0.1,"c":0.1,"e":0},
{"t":"2024-09-02T06:00","a":34.4,"b":0.1,"c":0.1,"e":0},
{"t":"2024-09-02T10:00","a":29.4,"b":0.1,"c":0.1,"e":0},
{"t":"2024-09-02T15:00","a":30.1,"b":0.1,"c":0.1,"e":0}
],
"spike":[
{"t":"2024-06-07T04:00","a":12.7,"b":18.5,"c":20.6,"d":22.2,"e":15.6,"f":10,"g":3.4,"h":26,"i":10,"j":9,"k":0,"l":0,"m":0,"n":0,"o":0,"p":0,"q":0,"r":0,"s":0,"u":0,"v":0,"w":0,"x":0,"y":0,"z":0},
{"t":"2024-06-07T06:00","a":12.7,"b":18.5,"c":20.6,"d":22.2,"e":15.6,"f":10,"g":3.4,"h":26,"i":10,"j":10.8,"k":2.5,"l":3.3,"m":2.4,"n":3.5,"o":2.8,"p":3,"q":2.5,"r":0.2,"s":0,"u":0,"v":0,"w":0,"x":0,"y":0,"z":0},
{"t":"2024-06-07T08:00","a":12.7,"b":18.5,"c":20.6,"d":22.2,"e":15.6,"f":10,"g":3.4,"h":26,"i":10,"j":10.8,"k":2.5,"l":3.3,"m":2.4,"n":3.5,"o":2.8,"p":3,"q":2.5,"r":6.7,"s":5.9,"u":5,"v":4.6,"w":0,"x":0,"y":0,"z":0},
{"t":"2024-06-07T09:00","a":12.7,"b":18.5,"c":20.6,"d":22.2,"e":15.6,"f":10,"g":3.4,"h":26,"i":10,"j":10.8,"k":2.5,"l":3.3,"m":2.4,"n":3.5,"o":2.8,"p":3,"q":2.5,"r":6.7,"s":5.9,"u":5,"v":5,"w":6.6,"x":7.6,"y":0,"z":0},
{"t":"2024-06-07T10:30","a":12.7,"b":18.5,"c":20.6,"d":22.2,"e":15.6,"f":10,"g":3.4,"h":26,"i":10,"j":10.8,"k":2.5,"l":3.3,"m":2.4,"n":3.5,"o":2.8,"p":3,"q":2.5,"r":6.7,"s":5.9,"u":5,"v":5,"w":6.6,"x":8.4,"y":6.6,"z":7.3},
{"t":"2024-06-07T13:00","a":12.7,"b":18.5,"c":20.6,"d":22.2,"e":15.6,"f":10,"g":3.4,"h":26,"i":10,"j":10.8,"k":2.5,"l":3.3,"m":2.4,"n":3.5,"o":2.8,"p":3,"q":2.5,"r":6.7,"s":5.9,"u":5,"v":5,"w":6.6,"x":8.4,"y":3.9,"z":0},
{"t":"2024-06-07T15:30","a":12.7,"b":18.5,"c":20.6,"d":22.2,"e":15.6,"f":10,"g":3.4,"h":26,"i":10,"j":10.8,"k":2.5,"l":3.3,"m":2.4,"n":3.5,"o":2.8,"p":3,"q":2.5,"r":6.7,"s":5.9,"u":5,"v":5,"w":6.6,"x":2.3,"y":0,"z":0},
{"t":"2024-06-07T18:00","a":12.7,"b":18.5,"c":20.6,"d":22.2,"e":15.6,"f":10,"g":3.4,"h":26,"i":10,"j":10.8,"k":2.5,"l":3.3,"m":2.4,"n":3.5,"o":2.8,"p":3,"q":2.5,"r":6.7,"s":5.9,"u":5,"v":4,"w":0,"x":0,"y":0,"z":0},
{"t":"2024-06-07T20:30","a":12.7,"b":18.5,"c":20.6,"d":22.2,"e":15.6,"f":10,"g":3.4,"h":26,"i":10,"j":10.8,"k":2.5,"l":3.3,"m":2.4,"n":3.5,"o":2.8,"p":3,"q":2.5,"r":6.7,"s":4.9,"u":0,"v":0,"w":0,"x":0,"y":0,"z":0},
{"t":"2024-06-07T23:00","a":12.7,"b":18.5,"c":20.6,"d":22.2,"e":15.6,"f":10,"g":3.4,"h":26,"i":10,"j":10.8,"k":2.5,"l":3.3,"m":2.4,"n":3.5,"o":2.8,"p":3,"q":2.5,"r":1.6,"s":0,"u":0,"v":0,"w":0,"x":0,"y":0,"z":0},
{"t":"2024-06-08T01:30","a":12.7,"b":18.5,"c":20.6,"d":22.2,"e":15.6,"f":10,"g":3.4,"h":26,"i":10,"j":10.8,"k":2.5,"l":3.3,"m":2.4,"n":3.5,"o":0,"p":0,"q":0,"r":0,"s":0,"u":0,"v":0,"w":0,"x":0,"y":0,"z":0},
{"t":"2024-06-08T04:00","a":12.7,"b":18.5,"c":20.6,"d":22.2,"e":15.6,"f":10,"g":3.4,"h":26,"i":10,"j":10.8,"k":1.7,"l":0,"m":0,"n":0,"o":0,"p":0,"q":0,"r":0,"s":0,"u":0,"v":0,"w":0,"x":0,"y":0,"z":0}
]
},
"encoding":{
"x":{"field":"t","type":"temporal","scale":{"domain":["2024-06-02T14:00","2024-09-02T15:00"]},
"axis":{"title":"2024","titleColor":"#6a6c75","titleFontSize":12,"titleFontWeight":"normal","titlePadding":9,"grid":false,
"domainColor":"#9a9aa6","tickColor":"#6a6c75","tickSize":5,"labelPadding":11,"labelFontSize":12,"labelColor":{"condition":{"test":"date(datum.value)==1","value":"#8a8c94"},"value":"#6a6c75"},
"labelFontWeight":{"condition":{"test":"date(datum.value)==1","value":"bold"},"value":"normal"},
"labelExpr":"date(datum.value)==1?timeFormat(datum.value,'%b'):timeFormat(datum.value,'%-d')",
"values":["2024-06-08T00:00","2024-06-15T00:00","2024-06-22T00:00","2024-06-29T00:00","2024-07-01T00:00","2024-07-08T00:00","2024-07-15T00:00","2024-07-22T00:00","2024-07-29T00:00","2024-08-01T00:00","2024-08-08T00:00","2024-08-15T00:00","2024-08-22T00:00","2024-08-29T00:00","2024-09-01T00:00"]}},
"y":{"field":"v","type":"quantitative","stack":"zero","scale":{"domain":[0,250]},
"axis":{"title":null,"values":[0,50,100,150,200,250],"labelExpr":"datum.value+' MvB'","grid":true,"gridColor":"#20232e","domain":false,"ticks":false,"labelPadding":8,"labelFontSize":11,"labelColor":"#62646d"}},
"color":{"field":"band","type":"nominal","legend":null,"scale":{
"domain":["a","b","c","d","e","f","g","h","i","j","k","l","m","n","o","p","q","r","s","u","v","w","x","y","z"],
"range":["#8e24aa","#5e35b1","#3949ab","#1e88e5","#039be5","#00acc1","#00897b","#43a047","#7cb342","#c0ca33","#fdd835","#ffb300","#fb8c00","#f4511e","#6d4c41","#757575","#546e7a","#e53935","#d81b60","#8e24aa","#5e35b1","#3949ab","#1e88e5","#00897b","#43a047"]}},
"order":{"field":"band","sort":"ascending"}
},
"layer":[
{"data":{"name":"full"},"transform":[{"fold":["a","b","c","d","e","f","g","h","i","j","k"],"as":["band","v"]}],"mark":{"type":"area","interpolate":"linear"}},
{"data":{"name":"late"},"transform":[{"fold":["a","b","c","e"],"as":["band","v"]}],"mark":{"type":"area","interpolate":"linear"}},
{"data":{"name":"spike"},"transform":[{"fold":["a","b","c","d","e","f","g","h","i","j","k","l","m","n","o","p","q","r","s","u","v","w","x","y","z"],"as":["band","v"]}],"mark":{"type":"area","interpolate":"linear"}}
]
}
